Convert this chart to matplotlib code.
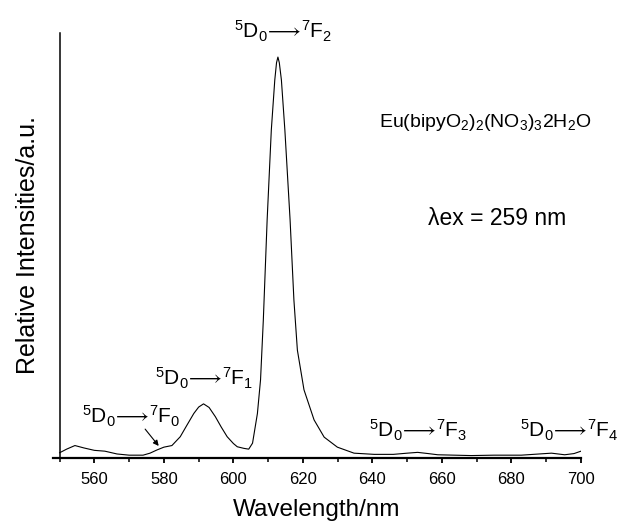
import matplotlib
matplotlib.use("Agg")
import matplotlib.pyplot as plt

plt.rcParams["font.family"] = ["Liberation Sans", "DejaVu Sans"]
plt.rcParams["mathtext.fontset"] = "custom"
plt.rcParams["mathtext.rm"] = "Liberation Sans"
plt.rcParams["mathtext.it"] = "Liberation Sans"
plt.rcParams["mathtext.fallback"] = "stixsans"

# emission spectrum (peak = 100)
wavelength = [550, 552, 554.4, 557, 560, 563, 566.5, 570, 574, 576, 578, 580, 582.3,
              584.7, 586.5, 588.6, 590, 591.4, 593, 594.8, 596.5, 598.2, 600, 601.1,
              603, 604.4, 605.5, 606.9, 607.8, 608.6, 609.7, 610.9, 611.9, 612.4,
              612.8, 613.2, 613.8, 614.8, 616.3, 617.4, 618.4, 620.3, 623.2, 626.1,
              629.9, 634.7, 640.5, 646, 650, 653, 656, 658.8, 668.4, 675, 682.8, 688,
              691.5, 695.3, 698, 700]
intensity = [1.3, 2.2, 3.1, 2.5, 1.9, 1.7, 1.0, 0.7, 0.7, 1.2, 2.0, 2.7, 3.1,
             5.3, 8.0, 11.1, 12.7, 13.5, 12.6, 10.3, 7.7, 5.3, 3.6, 2.8,
             2.4, 2.2, 3.7, 11.1, 19.5, 34.4, 59.4, 81.8, 94.3, 98.6,
             100, 98.6, 94.3, 81.8, 59.4, 39.4, 26.9, 17.0, 9.5, 5.2,
             2.7, 1.2, 0.9, 0.9, 1.2, 1.4, 1.1, 0.8, 0.6, 0.7, 0.7, 1.0,
             1.2, 0.8, 1.1, 1.7]

# transition labels: (final level, x, y)
labels = [
    ("2", 614.2, 104.7),
    ("1", 591.4, 18.2),
    ("0", 570.6, 8.7),
    ("3", 653.2, 5.0),
    ("4", 696.6, 5.0),
]

fig = plt.figure(figsize=(6.22, 5.24), dpi=100)
ax = fig.add_axes([0.0847, 0.126, 0.8494, 0.811])

ax.plot(wavelength, intensity, color="black", lw=0.8)
ax.set_xlim(548, 700)
ax.set_ylim(0, 106)

ax.spines["top"].set_visible(False)
ax.spines["right"].set_visible(False)
ax.spines["left"].set_position(("data", 550))
ax.spines["left"].set_linewidth(1.1)
ax.spines["bottom"].set_linewidth(1.6)
ax.set_yticks([])
ax.set_xticks(range(560, 701, 20))
ax.set_xticks(range(550, 701, 10), minor=True)
ax.tick_params(axis="x", which="major", direction="out", length=3.5, width=1.3,
               labelsize=12, pad=6.5)
ax.tick_params(axis="x", which="minor", direction="out", length=3.0, width=1.1)

ax.set_xlabel("Wavelength/nm", fontsize=17.5, labelpad=9)
ax.set_ylabel("Relative Intensities/a.u.", fontsize=18, labelpad=14)

for lev, x, y in labels:
    txt = r"$^{5}\mathrm{D}_{0}\!\longrightarrow\!^{7}\mathrm{F}_{%s}$" % lev
    ax.text(x, y, txt, fontsize=15, ha="center", va="baseline")

ax.annotate("", xy=(578.5, 3.0), xytext=(574.6, 7.2),
            arrowprops=dict(arrowstyle="-|>", color="black", lw=0.8,
                            mutation_scale=8, shrinkA=0, shrinkB=0))

ax.text(672.3, 82.6, r"Eu(bipyO$_{2}$)$_{2}$(NO$_{3}$)$_{3}$2H$_{2}$O",
        fontsize=14, ha="center", va="baseline")
ax.text(675.8, 58.1, "λex = 259 nm", fontsize=16.5, ha="center", va="baseline")

fig.savefig("out.png", dpi=100)
